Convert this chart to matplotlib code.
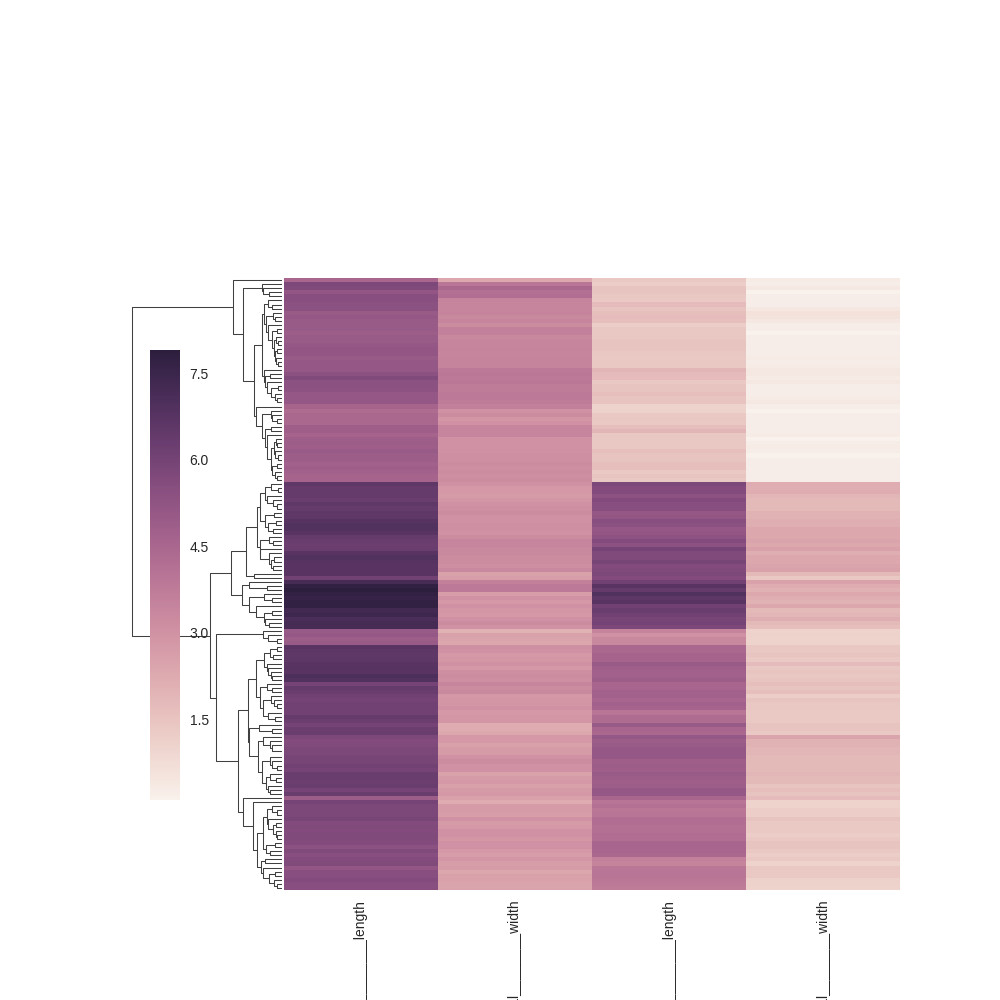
import numpy as np
import seaborn as sns
import matplotlib
matplotlib.use('Agg')
import matplotlib.pyplot as plt
from matplotlib.collections import LineCollection

# values in dataset order, rows get reordered by the clustering below
sepal_length = [5.1,4.9,4.7,4.6,5.0,5.4,4.6,5.0,4.4,4.9,5.4,4.8,4.8,4.3,5.8,5.7,5.4,5.1,5.7,5.1,5.4,5.1,4.6,5.1,4.8,5.0,5.0,5.2,5.2,4.7,4.8,5.4,5.2,5.5,4.9,5.0,5.5,4.9,4.4,5.1,5.0,4.5,4.4,5.0,5.1,4.8,5.1,4.6,5.3,5.0,
                7.0,6.4,6.9,5.5,6.5,5.7,6.3,4.9,6.6,5.2,5.0,5.9,6.0,6.1,5.6,6.7,5.6,5.8,6.2,5.6,5.9,6.1,6.3,6.1,6.4,6.6,6.8,6.7,6.0,5.7,5.5,5.5,5.8,6.0,5.4,6.0,6.7,6.3,5.6,5.5,5.5,6.1,5.8,5.0,5.6,5.7,5.7,6.2,5.1,5.7,
                6.3,5.8,7.1,6.3,6.5,7.6,4.9,7.3,6.7,7.2,6.5,6.4,6.8,5.7,5.8,6.4,6.5,7.7,7.7,6.0,6.9,5.6,7.7,6.3,6.7,7.2,6.2,6.1,6.4,7.2,7.4,7.9,6.4,6.3,6.1,7.7,6.3,6.4,6.0,6.9,6.7,6.9,5.8,6.8,6.7,6.7,6.3,6.5,6.2,5.9]
sepal_width = [3.5,3.0,3.2,3.1,3.6,3.9,3.4,3.4,2.9,3.1,3.7,3.4,3.0,3.0,4.0,4.4,3.9,3.5,3.8,3.8,3.4,3.7,3.6,3.3,3.4,3.0,3.4,3.5,3.4,3.2,3.1,3.4,4.1,4.2,3.1,3.2,3.5,3.6,3.0,3.4,3.5,2.3,3.2,3.5,3.8,3.0,3.8,3.2,3.7,3.3,
               3.2,3.2,3.1,2.3,2.8,2.8,3.3,2.4,2.9,2.7,2.0,3.0,2.2,2.9,2.9,3.1,3.0,2.7,2.2,2.5,3.2,2.8,2.5,2.8,2.9,3.0,2.8,3.0,2.9,2.6,2.4,2.4,2.7,2.7,3.0,3.4,3.1,2.3,3.0,2.5,2.6,3.0,2.6,2.3,2.7,3.0,2.9,2.9,2.5,2.8,
               3.3,2.7,3.0,2.9,3.0,3.0,2.5,2.9,2.5,3.6,3.2,2.7,3.0,2.5,2.8,3.2,3.0,3.8,2.6,2.2,3.2,2.8,2.8,2.7,3.3,3.2,2.8,3.0,2.8,3.0,2.8,3.8,2.8,2.8,2.6,3.0,3.4,3.1,3.0,3.1,3.1,3.1,2.7,3.2,3.3,3.0,2.5,3.0,3.4,3.0]
petal_length = [1.4,1.4,1.3,1.5,1.4,1.7,1.4,1.5,1.4,1.5,1.5,1.6,1.4,1.1,1.2,1.5,1.3,1.4,1.7,1.5,1.7,1.5,1.0,1.7,1.9,1.6,1.6,1.5,1.4,1.6,1.6,1.5,1.5,1.4,1.5,1.2,1.3,1.4,1.3,1.5,1.3,1.3,1.3,1.6,1.9,1.4,1.6,1.4,1.5,1.4,
                4.7,4.5,4.9,4.0,4.6,4.5,4.7,3.3,4.6,3.9,3.5,4.2,4.0,4.7,3.6,4.4,4.5,4.1,4.5,3.9,4.8,4.0,4.9,4.7,4.3,4.4,4.8,5.0,4.5,3.5,3.8,3.7,3.9,5.1,4.5,4.5,4.7,4.4,4.1,4.0,4.4,4.6,4.0,3.3,4.2,4.2,4.2,4.3,3.0,4.1,
                6.0,5.1,5.9,5.6,5.8,6.6,4.5,6.3,5.8,6.1,5.1,5.3,5.5,5.0,5.1,5.3,5.5,6.7,6.9,5.0,5.7,4.9,6.7,4.9,5.7,6.0,4.8,4.9,5.6,5.8,6.1,6.4,5.6,5.1,5.6,6.1,5.6,5.5,4.8,5.4,5.6,5.1,5.1,5.9,5.7,5.2,5.0,5.2,5.4,5.1]
petal_width = [0.2,0.2,0.2,0.2,0.2,0.4,0.3,0.2,0.2,0.1,0.2,0.2,0.1,0.1,0.2,0.4,0.4,0.3,0.3,0.3,0.2,0.4,0.2,0.5,0.2,0.2,0.4,0.2,0.2,0.2,0.2,0.4,0.1,0.2,0.2,0.2,0.2,0.1,0.2,0.2,0.3,0.3,0.2,0.6,0.4,0.3,0.2,0.2,0.2,0.2,
               1.4,1.5,1.5,1.3,1.5,1.3,1.6,1.0,1.3,1.4,1.0,1.5,1.0,1.4,1.3,1.4,1.5,1.0,1.5,1.1,1.8,1.3,1.5,1.2,1.3,1.4,1.4,1.7,1.5,1.0,1.1,1.0,1.2,1.6,1.5,1.6,1.5,1.3,1.3,1.3,1.2,1.4,1.2,1.0,1.3,1.2,1.3,1.3,1.1,1.3,
               2.5,1.9,2.1,1.8,2.2,2.1,1.7,1.8,1.8,2.5,2.0,1.9,2.1,2.0,2.4,2.3,1.8,2.2,2.3,1.5,2.3,2.0,2.0,1.8,2.1,1.8,1.8,1.8,2.1,1.6,1.9,2.0,2.2,1.5,1.4,2.3,2.4,1.8,1.8,2.1,2.4,2.3,1.9,2.3,2.5,2.3,1.9,2.0,2.3,1.8]
col_labels = ['sepal_________length', 'sepal________width', 'sepal_________length', 'sepal________width']
cbar_ticks = [1.5, 3.0, 4.5, 6.0, 7.5]


def average_linkage(X):
    # nearest neighbour chain, same tie handling as scipy
    n = len(X)
    D = np.sqrt(((X[:, None] - X[None]) ** 2).sum(axis=2))
    size = np.ones(n)
    chain = []
    merges = []
    for _ in range(n - 1):
        if not chain:
            chain = [int(np.argmax(size > 0))]
        while True:
            x = chain[-1]
            y = chain[-2] if len(chain) > 1 else -1
            best = D[x, y] if len(chain) > 1 else np.inf
            for i in range(n):
                if size[i] > 0 and i != x and D[x, i] < best:
                    best = D[x, i]
                    y = i
            if len(chain) > 1 and y == chain[-2]:
                break
            chain.append(y)
        chain = chain[:-2]
        x, y = min(x, y), max(x, y)
        nx, ny = size[x], size[y]
        merges.append((x, y, best))
        size[x] = 0
        size[y] = nx + ny
        for i in range(n):
            if size[i] > 0 and i != y:
                D[i, y] = D[y, i] = (nx * D[i, x] + ny * D[i, y]) / (nx + ny)
    merges.sort(key=lambda m: m[2])
    # relabel so the ids follow merge order
    root = {i: i for i in range(n)}
    tree = {}
    for k, (x, y, h) in enumerate(merges):
        rx, ry = root[x], root[y]
        tree[n + k] = (min(rx, ry), max(rx, ry), h)
        for i, r in root.items():
            if r == rx or r == ry:
                root[i] = n + k
    return tree, 2 * n - 2


data = np.array([sepal_length, sepal_width, petal_length, petal_width]).T
tree, top = average_linkage(data)

leaves = []
segments = []


def walk(node):
    if node not in tree:
        leaves.append(node)
        return 5 + 10 * (len(leaves) - 1), 0
    a, b, h = tree[node]
    ya, ha = walk(a)
    yb, hb = walk(b)
    segments.append([(ha, ya), (h, ya), (h, yb), (hb, yb)])
    return (ya + yb) / 2, h


walk(top)
max_h = tree[top][2]

cmap = sns.cubehelix_palette(light=.95, dark=.15, as_cmap=True)
plt.rcParams['font.family'] = ['Liberation Sans', 'DejaVu Sans']
plt.rcParams['font.size'] = 10
text_c = '.15'

fig = plt.figure(figsize=(10, 10), dpi=100)


def box(l, t, r, b):
    return [l / 1000, 1 - b / 1000, (r - l) / 1000, (b - t) / 1000]


# left dendrogram, root is at px 132
den = fig.add_axes(box(282 - 150 * 1.05, 278, 282, 890))
den.add_collection(LineCollection(segments, colors='.25', linewidths=0.75))
den.set_xlim(max_h * 1.05, 0)
den.set_ylim(1500, 0)
den.axis('off')

ax = fig.add_axes(box(284, 278, 900, 890))
im = ax.imshow(data[leaves], cmap=cmap, aspect='auto', interpolation='nearest', vmin=0.1, vmax=7.9)
ax.set_xticks([0, 1, 2.006, 3.006])
ax.set_xticklabels(col_labels, rotation=90, color=text_c, fontsize=10)
ax.set_yticks([])
ax.tick_params(axis='x', length=0, pad=7)
for s in ax.spines.values():
    s.set_visible(False)

cax = fig.add_axes(box(150, 350, 180, 800))
cb = fig.colorbar(im, cax=cax)
cb.set_ticks(cbar_ticks)
cb.set_ticklabels([f'{t:.1f}' for t in cbar_ticks])
cb.ax.tick_params(length=0, pad=7, labelsize=10, labelcolor=text_c)
cb.outline.set_visible(False)

fig.savefig('out.png', dpi=100)
